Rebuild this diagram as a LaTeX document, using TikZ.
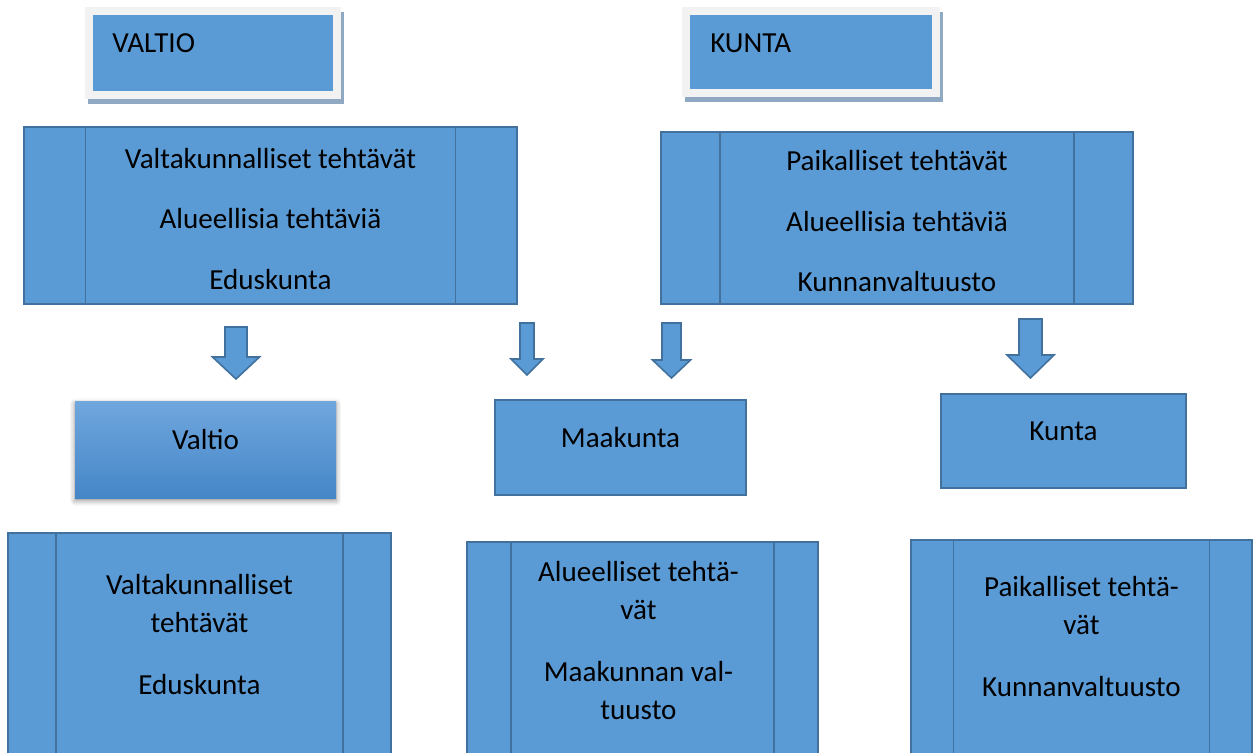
\documentclass[tikz,border=0pt]{standalone}
\usepackage{fontspec}
\setmainfont{Carlito}
\usetikzlibrary{positioning,calc,shadows.blur}

\definecolor{boxblue}{HTML}{5B9BD5}
\definecolor{boxline}{HTML}{41719C}
\definecolor{framegray}{HTML}{F2F2F2}
\definecolor{frameshadow}{HTML}{8EA9C1}
\definecolor{valtiotop}{HTML}{70A7DD}
\definecolor{valtiobot}{HTML}{4586C8}

\newcommand{\pxu}{0.75pt}
\newcommand{\boxfont}{\fontsize{21.8pt}{28.5pt}\selectfont}

% block arrow pointing down: centre x, top, shaft width, shaft bottom, head width, tip
\newcommand{\downblock}[6]{%
  \draw[blockarrow] (#1-#3/2,#2) -- (#1+#3/2,#2) -- (#1+#3/2,#4) -- (#1+#5/2,#4)
    -- (#1,#6) -- (#1-#5/2,#4) -- (#1-#3/2,#4) -- cycle;}

\tikzset{
  headbox/.style={rectangle, fill=boxblue, draw=framegray, line width=8*\pxu, inner sep=0pt,
    preaction={fill=frameshadow, draw=frameshadow, transform canvas={shift={(2.25pt,-4.1pt)}}}},
  headtext/.style={anchor=base west, inner sep=0pt, font=\boxfont},
  plainbox/.style={rectangle, fill=boxblue, draw=boxline, line width=1.6*\pxu, inner sep=0pt,
    font=\boxfont, text depth=15pt},
  procbox/.style={rectangle, fill=boxblue, draw=boxline, line width=1.6*\pxu, inner sep=0pt,
    font=\boxfont, align=center,
    path picture={
      \draw[boxline, line width=1.6*\pxu]
        ($(path picture bounding box.north west)!0.125!(path picture bounding box.north east)$)
          -- ($(path picture bounding box.south west)!0.125!(path picture bounding box.south east)$)
        ($(path picture bounding box.north west)!0.875!(path picture bounding box.north east)$)
          -- ($(path picture bounding box.south west)!0.875!(path picture bounding box.south east)$);
    }},
  boxtext/.style={inner sep=0pt, font=\boxfont, align=center},
  blockarrow/.style={fill=boxblue, draw=boxline, line width=1.6*\pxu, line join=miter},
}

\begin{document}
\begin{tikzpicture}[x=0.75pt, y=-0.75pt]
  \useasboundingbox (0,0) rectangle (1257,753);
  \clip (0,0) rectangle (1257,753);

  % heading frames
  \node[headbox, minimum width=248*\pxu, minimum height=84*\pxu] (vhead) at (213,53) {};
  \node[headbox, minimum width=250*\pxu, minimum height=82*\pxu] (khead) at (810.5,52) {};
  \node[headtext] (vheadtext) at (112,52) {VALTIO};
  \node[headtext] (kheadtext) at (710,52) {KUNTA};

  % upper task boxes
  \node[procbox, minimum width=493*\pxu, minimum height=177*\pxu] (vtasks) at (270.5,215.5)
    {\rule{0pt}{20pt}Valtakunnalliset tehtävät\\[17pt]Alueellisia tehtäviä\\[17pt]Eduskunta};
  \node[procbox, minimum width=472*\pxu, minimum height=172*\pxu] (ktasks) at (897,218)
    {\rule{0pt}{20pt}Paikalliset tehtävät\\[17pt]Alueellisia tehtäviä\\[17pt]Kunnanvaltuusto};

  % arrows
  \downblock{236}{327}{22}{357}{47}{379}
  \downblock{527}{323}{14}{359}{32}{375}
  \downblock{671.5}{323}{19}{360}{38}{378}
  \downblock{1030.5}{319}{23}{355}{47}{378}

  % levels
  \node[plainbox, draw=none, top color=valtiotop, bottom color=valtiobot,
    blur shadow={shadow xshift=0pt, shadow yshift=-2pt, shadow blur radius=4pt, shadow opacity=45},
    minimum width=261*\pxu, minimum height=97*\pxu] (valtio) at (205.5,449.5) {Valtio};
  \node[plainbox, minimum width=251*\pxu, minimum height=95*\pxu] (maakunta) at (620.5,447.5) {Maakunta};
  \node[plainbox, minimum width=245*\pxu, minimum height=94*\pxu] (kunta) at (1063.5,441) {Kunta};

  % lower task boxes
  \node[procbox, minimum width=383*\pxu, minimum height=287*\pxu] (vbottom) at (199.5,676.5) {};
  \node[procbox, minimum width=351*\pxu, minimum height=278*\pxu] (mbottom) at (642.5,681) {};
  \node[procbox, minimum width=341*\pxu, minimum height=280*\pxu] (kbottom) at (1081.5,680) {};
  \node[boxtext, below=31.5pt of vbottom.north] (vbottomtext)
    {Valtakunnalliset\\tehtävät\\[18pt]Eduskunta};
  \node[boxtext, below=15pt of mbottom.north, xshift=-3pt] (mbottomtext)
    {Alueelliset tehtä-\\vät\\[18pt]Maakunnan val-\\tuusto};
  \node[boxtext, below=27.8pt of kbottom.north] (kbottomtext)
    {Paikalliset tehtä-\\vät\\[18pt]Kunnanvaltuusto};
\end{tikzpicture}
\end{document}
